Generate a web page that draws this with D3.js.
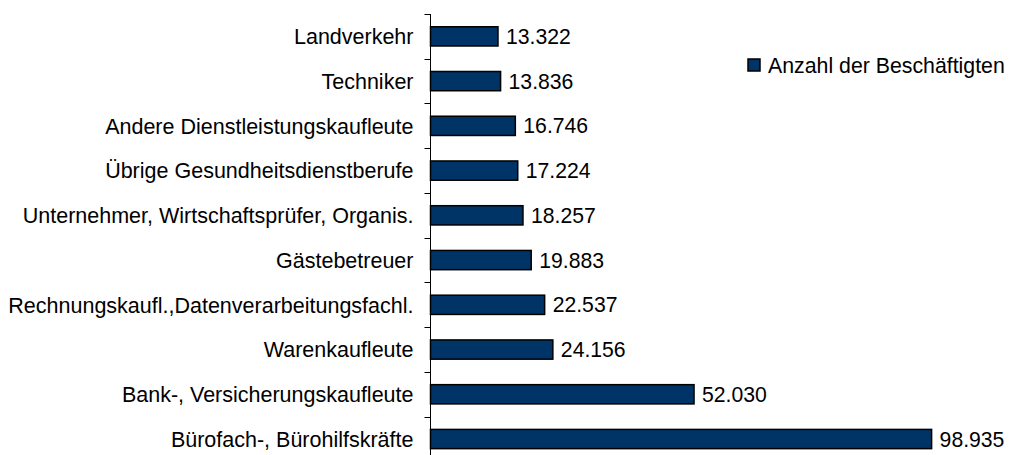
<!DOCTYPE html>
<html>
<head>
<meta charset="utf-8">
<script src="https://cdn.jsdelivr.net/npm/d3@7"></script>
<style>
  html, body { margin: 0; padding: 0; background: #fff; }
  text { font-family: "Liberation Sans", Arial, sans-serif; fill: #000; }
</style>
</head>
<body>
<svg id="chart" width="1009" height="455"></svg>
<script>
// Berufe, von oben nach unten
const categories = [
  "Landverkehr",
  "Techniker",
  "Andere Dienstleistungskaufleute",
  "Übrige Gesundheitsdienstberufe",
  "Unternehmer, Wirtschaftsprüfer, Organis.",
  "Gästebetreuer",
  "Rechnungskaufl.,Datenverarbeitungsfachl.",
  "Warenkaufleute",
  "Bank-, Versicherungskaufleute",
  "Bürofach-, Bürohilfskräfte"
]
const values = [13322, 13836, 16746, 17224, 18257, 19883, 22537, 24156, 52030, 98935]
const valueLabels = ["13.322", "13.836", "16.746", "17.224", "18.257", "19.883", "22.537", "24.156", "52.030", "98.935"]
const seriesName = "Anzahl der Beschäftigten"

const svg = d3.select("#chart")
const barColor = "#003366"

const x = d3.scaleLinear()
  .domain([0, 100000])
  .range([430.5, 937])

const y = d3.scaleBand()
  .domain(categories)
  .range([14, 461.4])
  .paddingInner(0.57)
  .paddingOuter(0.285)

// Balken
svg.append("g")
  .selectAll("rect")
  .data(values)
  .join("rect")
  .attr("x", x(0))
  .attr("y", (d, i) => y(categories[i]))
  .attr("width", d => x(d) - x(0))
  .attr("height", y.bandwidth())
  .attr("fill", barColor)
  .attr("stroke", "#000")
  .attr("stroke-width", 1.5)

// Werte
svg.append("g")
  .selectAll("text")
  .data(values)
  .join("text")
  .attr("x", d => x(d) + 8)
  .attr("y", (d, i) => y(categories[i]) + y.bandwidth() / 2)
  .attr("dy", "0.36em")
  .style("font-size", "21.2px")
  .text((d, i) => valueLabels[i])

// y-Achse mit Trennstrichen zwischen den Kategorien
const axisG = svg.append("g").attr("transform", "translate(" + 430.5 + ",0)")
axisG.append("line")
  .attr("y1", y.range()[0]).attr("y2", y.range()[1])
  .attr("stroke", "#000")
d3.range(categories.length + 1).forEach(i => {
  const ty = Math.round(y.range()[0] + i * (y.range()[1] - y.range()[0]) / categories.length) + 0.5
  axisG.append("line")
    .attr("x1", -6).attr("x2", 0)
    .attr("y1", ty).attr("y2", ty)
    .attr("stroke", "#000")
})
axisG.selectAll("text.cat")
  .data(categories)
  .join("text")
  .attr("class", "cat")
  .attr("x", -17)
  .attr("y", d => y(d) + y.bandwidth() / 2)
  .attr("dy", "0.36em")
  .attr("text-anchor", "end")
  .style("font-size", "21.5px")
  .text(d => d)

// Legende
const legend = svg.append("g").attr("transform", "translate(748,59)")
legend.append("rect")
  .attr("width", 12).attr("height", 12)
  .attr("fill", barColor)
  .attr("stroke", "#000")
  .attr("stroke-width", 1.5)
legend.append("text")
  .attr("x", 20).attr("y", 6)
  .attr("dy", "0.36em")
  .style("font-size", "21.3px")
  .text(seriesName)
</script>
</body>
</html>
